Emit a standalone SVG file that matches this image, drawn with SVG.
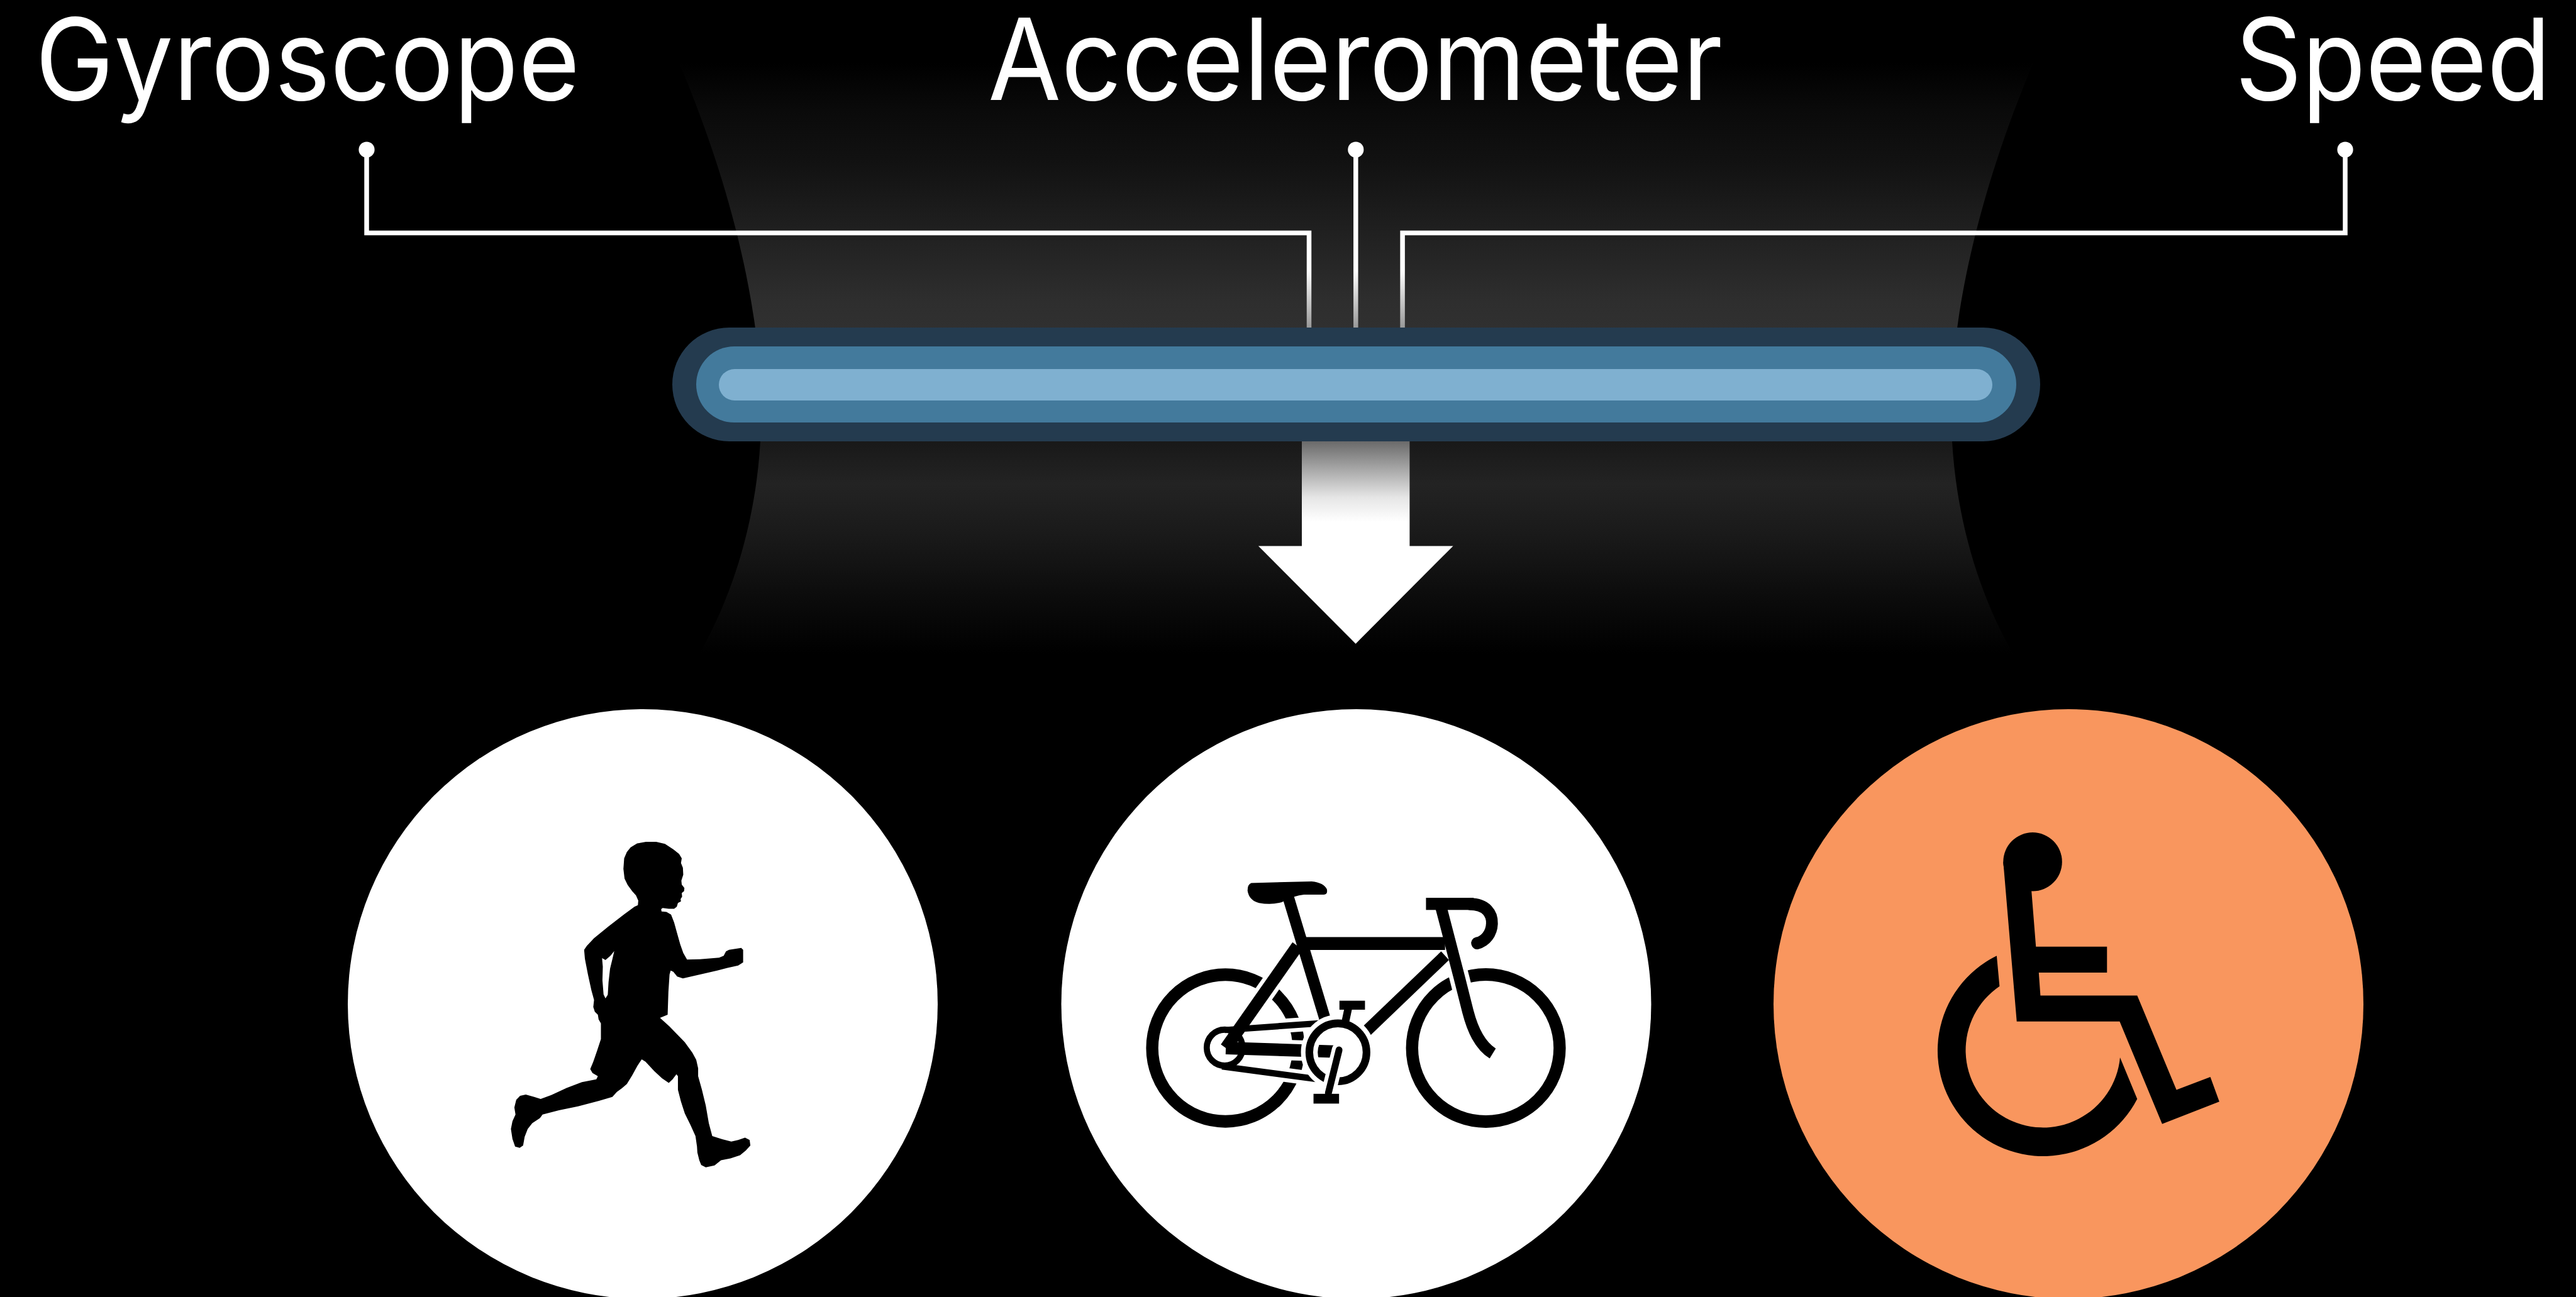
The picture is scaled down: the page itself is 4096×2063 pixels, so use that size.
<svg xmlns="http://www.w3.org/2000/svg" width="4096" height="2063" viewBox="0 0 4096 2063">
  <defs>
    <style>
      .label { font-family: Inter, "Liberation Sans", "DejaVu Sans", sans-serif; font-size: 180px; fill: #ffffff; }
      .wire { fill: none; stroke: url(#wireFade); stroke-width: 7.5; stroke-linejoin: miter; }
      .dot { fill: #ffffff; }
      .ink { fill: #000000; }
      .tube { fill: none; stroke: #000; stroke-width: 32; }
      .halo { fill: none; stroke: #fff; stroke-width: 52; }
    </style>
    <linearGradient id="glowGrad" gradientUnits="userSpaceOnUse" x1="0" y1="100" x2="0" y2="1060">
      <stop offset="0" stop-color="#000"/>
      <stop offset="0.078" stop-color="#0a0a0a"/>
      <stop offset="0.159" stop-color="#111"/>
      <stop offset="0.28" stop-color="#202020"/>
      <stop offset="0.395" stop-color="#2e2e2e"/>
      <stop offset="0.4375" stop-color="#303030"/>
      <stop offset="0.63" stop-color="#191919"/>
      <stop offset="0.698" stop-color="#232323"/>
      <stop offset="0.78" stop-color="#1a1a1a"/>
      <stop offset="0.896" stop-color="#0a0a0a"/>
      <stop offset="0.98" stop-color="#000"/>
    </linearGradient>
    <linearGradient id="wireFade" gradientUnits="userSpaceOnUse" x1="0" y1="430" x2="0" y2="521">
      <stop offset="0" stop-color="#fff"/>
      <stop offset="1" stop-color="#999"/>
    </linearGradient>
    <linearGradient id="stemGrad" gradientUnits="userSpaceOnUse" x1="0" y1="702" x2="0" y2="830">
      <stop offset="0" stop-color="#6a6a6a"/>
      <stop offset="0.35" stop-color="#a8a8a8"/>
      <stop offset="0.7" stop-color="#e6e6e6"/>
      <stop offset="1" stop-color="#fff"/>
    </linearGradient>
  </defs>

  <rect width="4096" height="2063" fill="#000"/>

  <!-- soft backdrop behind the sensor bar -->
  <path id="backdrop" fill="url(#glowGrad)" d="M1080,100 C1181,340 1215,543 1210,679 C1206,815 1168,951 1100,1060 L3213,1060 C3145,951 3107,815 3103,679 C3098,543 3132,340 3233,100 Z"/>

  <!-- sensor labels -->
  <g id="label-gyroscope">
    <text class="label" x="56" y="159" textLength="866" lengthAdjust="spacingAndGlyphs">Gyroscope</text>
  </g>
  <g id="label-accelerometer">
    <text class="label" x="1571" y="159" textLength="1168" lengthAdjust="spacingAndGlyphs">Accelerometer</text>
  </g>
  <g id="label-speed">
    <text class="label" x="3554" y="159" textLength="502" lengthAdjust="spacingAndGlyphs">Speed</text>
  </g>

  <!-- connectors from sensors into the bar -->
  <g id="connectors">
    <path class="wire" d="M583,238 V370.4 H2081.5 V521"/>
    <path class="wire" d="M2155.8,238 V521"/>
    <path class="wire" d="M3729,238 V370.4 H2230.1 V521"/>
    <circle class="dot" cx="583" cy="238" r="12.6"/>
    <circle class="dot" cx="2155.8" cy="238" r="12.6"/>
    <circle class="dot" cx="3729" cy="238" r="12.6"/>
  </g>

  <!-- sensor fusion bar -->
  <g id="fusion-bar">
    <rect x="1069" y="521" width="2175" height="181" rx="90.5" fill="#243b4f"/>
    <rect x="1107" y="551" width="2099" height="121" rx="60.5" fill="#437a9c"/>
    <rect x="1143" y="587" width="2025" height="50" rx="25" fill="#7fb0d0"/>
  </g>

  <!-- downward arrow -->
  <g id="arrow">
    <rect x="2070" y="702" width="171.4" height="167" fill="url(#stemGrad)"/>
    <polygon fill="#fff" points="2000.9,868.4 2070,868.4 2241.4,868.4 2310.6,868.4 2155.6,1023.9"/>
  </g>

  <!-- activity: running -->
  <g id="activity-running">
    <circle cx="1022" cy="1597" r="469" fill="#fff"/>
    <path class="ink" fill-rule="evenodd" transform="translate(543.2,1086.4) scale(0.6063,0.6223)" d="M777,568 L778,556 L772,543 L762,532 L750,516 L742,500 L739,475 L741,448 L748,432 L758,420 L775,410 L798,406 L825,406 L848,411 L870,425 L885,437 L892,448 L890,460 L895,472 L896,490 L891,505 L892,515 L899,524 L898,532 L892,537 L893,546 L889,552 L890,558 L882,562 L879,572 L872,577 L858,577 L842,575 L838,578 L839,584 L852,585 L864,592 L872,612 L880,640 L888,668 L896,690 L906,707 L940,706 L990,702 L1002,697 L1008,686 L1016,682 L1048,677 L1053,682 L1053,714 L1040,722 L1012,728 L985,735 L940,745 L895,755 L880,750 L870,738 L863,735 L860,745 L857,790 L855,848 L835,856 L860,878 L900,918 L920,945 L930,963 L935,985 L935,1005 L945,1040 L955,1080 L963,1125 L972,1158 L998,1166 L1022,1172 L1040,1168 L1058,1162 L1070,1168 L1072,1182 L1060,1195 L1045,1207 L1020,1215 L995,1220 L978,1233 L955,1238 L943,1232 L938,1220 L933,1200 L932,1185 L928,1158 L915,1130 L900,1100 L890,1070 L882,1040 L882,1005 L878,1000 L868,1013 L858,1022 L840,1010 L820,992 L797,968 L787,962 L776,978 L762,1003 L748,1025 L735,1036 L722,1045 L710,1058 L675,1068 L620,1082 L570,1092 L527,1103 L520,1112 L500,1125 L488,1140 L480,1160 L476,1182 L467,1188 L455,1185 L448,1165 L444,1140 L448,1120 L456,1103 L453,1085 L458,1065 L468,1055 L483,1052 L505,1058 L522,1063 L550,1053 L590,1035 L630,1020 L668,1013 L672,1005 L658,997 L652,987 L660,968 L670,940 L680,910 L680,870 L674,860 L672,848 L664,840 L660,828 L662,810 L655,785 L646,745 L638,705 L636,682 L643,672 L662,652 L700,622 L740,592 L768,572 Z M683,703 L692,708 L705,697 L715,685 L711,702 L704,730 L700,765 L698,797 L692,806 L687,796 L684,760 L685,725 Z"/>
  </g>

  <!-- activity: cycling -->
  <g id="activity-cycling">
    <circle cx="2156.5" cy="1597" r="469" fill="#fff"/>
    <g transform="translate(1697.5,1086.4) scale(0.6063,0.6223)">
      <ellipse class="tube" cx="414" cy="933" rx="192" ry="187.5"/>
      <ellipse class="tube" cx="1097" cy="933" rx="193.5" ry="188"/>
      <!-- gaps where tubes pass over the rims -->
      <g class="halo">
        <path d="M415,933 L603,672"/>
        <path d="M415,933 L700,942"/>
        <path d="M412,887 L700,867" stroke-width="36"/>
        <path d="M405,980 L690,1017" stroke-width="36"/>
        <path d="M980,575 L1028,755 L1050,840 C1062,885 1080,925 1115,947"/>
        <path d="M990,697 L778,895"/>
      </g>
      <g class="tube">
        <path d="M415,933 L603,672"/>
        <path d="M415,933 L700,942"/>
        <path d="M412,887 L700,867" stroke-width="16"/>
        <path d="M405,980 L690,1017" stroke-width="16"/>
        <ellipse cx="412" cy="932" rx="47" ry="46" stroke-width="16"/>
        <path d="M578,545 L678,868" stroke-width="30"/>
        <path d="M605,666 L990,666" stroke-width="33"/>
        <path d="M990,697 L778,895" stroke-width="30"/>
        <path d="M980,575 L1028,755 L1050,840 C1062,885 1080,925 1115,947" stroke-width="30"/>
        <path d="M1055,565 C1098,565 1114,590 1113,615 C1112,640 1096,660 1074,665" stroke-width="31" stroke-linecap="round"/>
      </g>
      <rect class="ink" x="940" y="549" width="125" height="31"/>
      <!-- chainring, cut out from the frame -->
      <ellipse cx="709" cy="944" rx="75" ry="74" fill="none" stroke="#fff" stroke-width="44"/>
      <ellipse cx="709" cy="944" rx="75" ry="74" fill="none" stroke="#000" stroke-width="20"/>
      <!-- cranks and pedals -->
      <path d="M712,938 L684,1048" stroke="#fff" stroke-width="38" stroke-linecap="round"/>
      <path d="M712,938 L684,1048" stroke="#000" stroke-width="18" stroke-linecap="round"/>
      <rect class="ink" x="645" y="1050" width="67" height="25"/>
      <path d="M736,832 L729,864" stroke="#000" stroke-width="20"/>
      <rect class="ink" x="713" y="812" width="67" height="23"/>
      <!-- saddle -->
      <path class="ink" d="M482,511 L640,507 Q672,510 680,527 Q683,540 672,541 L620,541 Q595,543 562,560 Q535,568 502,562 Q476,556 472,531 Q472,514 482,511 Z"/>
    </g>
  </g>

  <!-- activity: wheelchair -->
  <g id="activity-wheelchair">
    <circle cx="3289" cy="1597" r="469" fill="#f9965e"/>
    <g transform="translate(2783.9,1086.4) scale(0.6495,0.6223)">
      <ellipse class="ink" cx="690" cy="457" rx="72" ry="75"/>
      <polygon class="ink" points="618,457 651,865 903,865 1007,1127 1147,1070 1125,1007 1042,1040 946,799 709,799 705,740 872,740 872,674 698,674 687,530"/>
    </g>
    <path class="ink" d="M3174.9,1520.2 A168,168 0 1 0 3398.3,1747.9 L3371,1681.9 A123,123 0 1 1 3179.4,1568.7 Z"/>
  </g>
</svg>
